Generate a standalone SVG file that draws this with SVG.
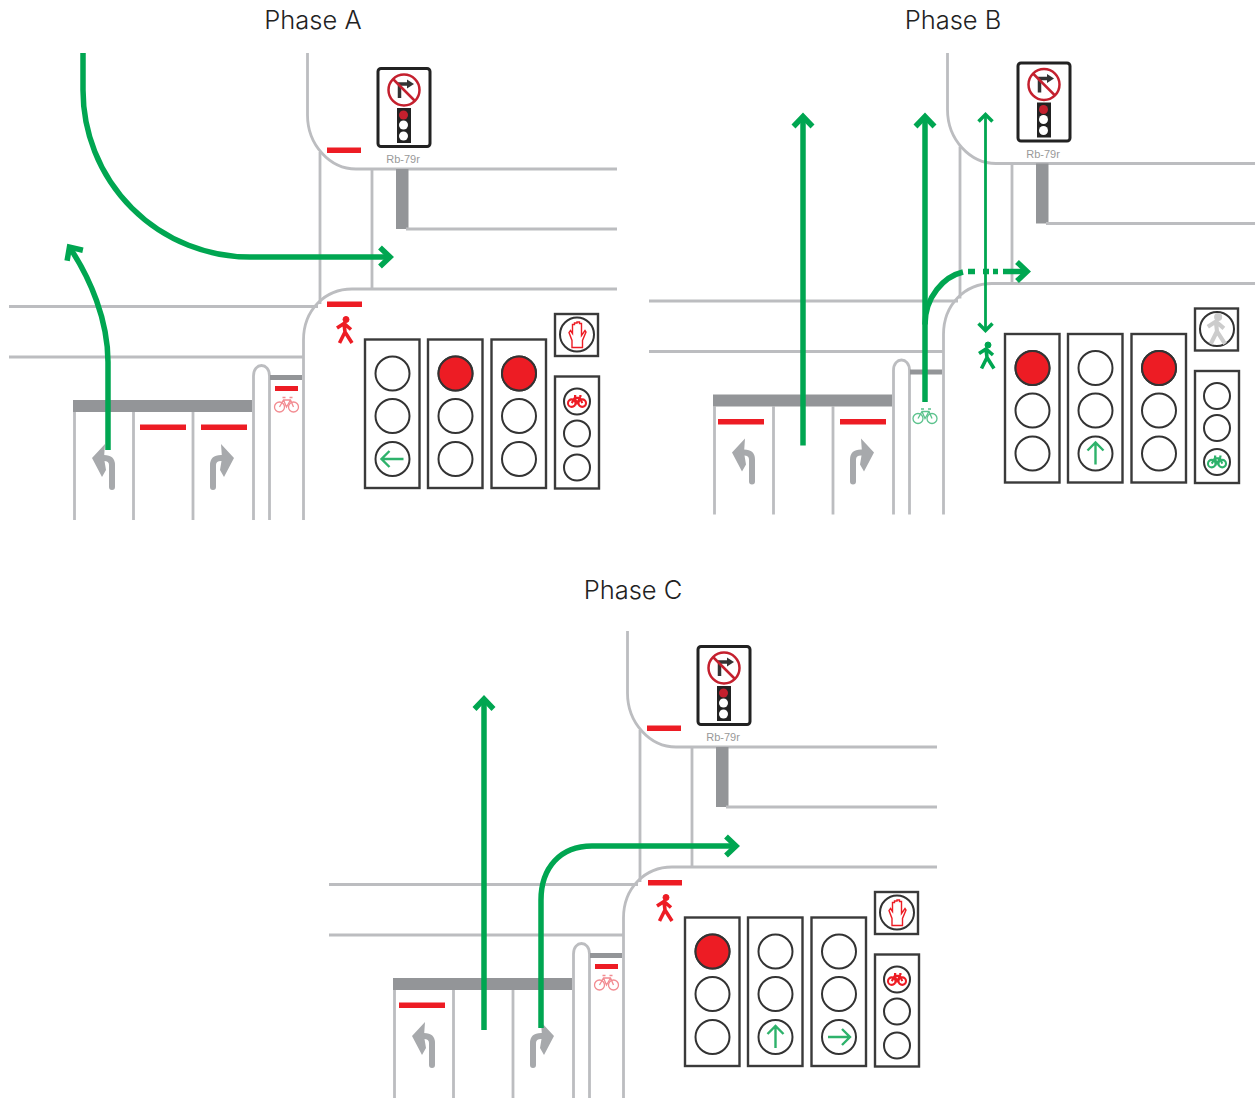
<svg xmlns="http://www.w3.org/2000/svg" width="1255" height="1099" viewBox="0 0 1255 1099">
<style>
.title{font-family:Inter,Roboto,"Liberation Sans",sans-serif;font-weight:300;font-size:25.500px;fill:#222;text-anchor:middle}
.code{font-family:"Liberation Sans",Arial,sans-serif;font-size:11px;fill:#999;text-anchor:middle}
.rd{fill:none;stroke:#bcbdc0;stroke-width:2.8}
.st{fill:#939598;stroke:none}
.bar{fill:#ed1c24}
.go{fill:none;stroke:#00a651;stroke-width:5.5}
.gothin{fill:none;stroke:#00a651;stroke-width:2.8}
.head{fill:#fff;stroke:#3a3a3a;stroke-width:2.4}
.lamp{fill:#fff;stroke:#333;stroke-width:2}
.on{fill:#ed1c24;stroke:#333;stroke-width:2}
.glyph{fill:none;stroke:#2eb26b;stroke-width:2.4}
.lane{fill:#a7a9ac}
.laneS{fill:none;stroke:#a7a9ac;stroke-width:6;stroke-linecap:round}
</style>
<defs>
<marker id="ah" markerUnits="userSpaceOnUse" markerWidth="36" markerHeight="36" viewBox="-22 -18 36 36" refX="-4" refY="0" orient="auto"><path d="M-13-9.500 L-3 0 L-13 9.500" fill="none" stroke="#00a651" stroke-width="5.500"/></marker>
<clipPath id="clipB"><rect x="0" y="58.500" width="620" height="462"/></clipPath>
<g id="roads">
<path class="rd" d="M307.500 53V115C307.500 145 330 169 356 169H617"/>
<path class="rd" d="M617 289H352C325 289 303.500 310 303.500 340V520"/>
<path class="rd" d="M320 152V304M372 169V289"/>
<path class="rd" d="M9 306.500H318M9 357H303"/>
<path class="rd" d="M253.500 520V376C253.500 362 269.500 362 269.500 376V520"/>
<path class="rd" d="M74.500 412V520M133.500 412V520M193 412V520"/>
<rect class="st" x="396" y="169" width="12.500" height="60"/>
<path class="rd" d="M406 229H617"/>
<rect class="st" x="73" y="400" width="179" height="12"/>
<rect class="st" x="270" y="375" width="32" height="5"/>
<path class="laneS" d="M112 487V465Q112 458 104 458H98"/>
<path class="lane" d="M92 458L105 444L104 458L106 470L102 477Z"/>
<path class="laneS" d="M213 487V465Q213 458 221 458H227"/>
<path class="lane" d="M234 458L221 444L222 458L220 470L224 477Z"/>
</g>
<g id="sign">
<rect x="378" y="68.500" width="52" height="78" rx="3" fill="#fff" stroke="#222" stroke-width="3"/>
<circle cx="404" cy="90" r="15.500" fill="#fff" stroke="#c4202e" stroke-width="2.500"/>
<path d="M399.500 98V84H409" fill="none" stroke="#333" stroke-width="3.500"/>
<path d="M407 79.500L414 84L407 88.500Z" fill="#333"/>
<path d="M393 79L415 101" stroke="#c4202e" stroke-width="2.500"/>
<rect x="397" y="108" width="14" height="35" fill="#222"/>
<circle cx="403.500" cy="115" r="4.500" fill="#c4202e"/><circle cx="403.500" cy="125" r="4.500" fill="#fff"/><circle cx="403.500" cy="136" r="4.500" fill="#fff"/>
<text class="code" x="403" y="163">Rb-79r</text>
</g>
<g id="ped"><circle cx="1" cy="-10.500" r="3"/><path fill="none" stroke-width="3.600" d="M-8-2L-1-6.500L6-.5M-1-6.500L0 2L-5.500 13M0 2L7 13"/></g>
<g id="bike" fill="none"><circle cx="-7" cy="3.500" r="5"/><circle cx="7" cy="3.500" r="5"/><path d="M-7 3.500L-3-3.500H4L7 3.500M-3-3.500L0 3.500L4-3.500M-4-6H-1M3-6H6"/></g>
<g id="arrowLamp"><path d="M-11 0H11M3-8L11 0L3 8"/></g>
<g id="hand"><path d="M-5 13V6L-8-2L-6.500-4L-4.500-1V-10H-2.500V-11.500H0V-12.500H2.500V-11H4.500V1L8-4L9-2.500L5.500 6V13Z" fill="#fff" stroke="#ed1c24" stroke-width="1.400"/></g>
<g id="h3"><rect class="head" x="0" y="0" width="54.500" height="148.500"/><circle class="lamp" cx="27.500" cy="34" r="17"/><circle class="lamp" cx="27.500" cy="76.500" r="17"/><circle class="lamp" cx="27.500" cy="119.500" r="17"/></g>
<g id="h3s"><rect class="head" x="0" y="0" width="44" height="112"/><circle class="lamp" cx="22" cy="25" r="13"/><circle class="lamp" cx="22" cy="57" r="13"/><circle class="lamp" cx="22" cy="91" r="13"/></g>
<g id="pedHead"><rect class="head" x="0" y="0" width="43" height="42"/><circle class="lamp" cx="22" cy="20.500" r="17"/></g>
</defs>

<text class="title" x="313" y="29">Phase A</text>
<text class="title" x="953" y="29">Phase B</text>
<text class="title" x="633" y="599">Phase C</text>

<g id="phase-a">
<g id="a-roads"><use href="#roads"/></g>
<g id="a-sign"><use href="#sign"/></g>
<g id="a-marks">
<rect class="bar" x="327" y="147.500" width="34" height="5.500"/><rect class="bar" x="327" y="301.500" width="35" height="5.500"/>
<rect class="bar" x="140" y="424.500" width="46" height="5.500"/><rect class="bar" x="201" y="424.500" width="46" height="5.500"/>
<rect class="bar" x="275" y="386" width="23" height="5"/>
<use href="#bike" transform="translate(286.500 403.500)" stroke="#f28b91" stroke-width="1.300"/>
<use href="#ped" transform="translate(345 330)" fill="#ed1c24" stroke="#ed1c24"/>
</g>
<g id="a-head1" transform="translate(365 339.500)"><use href="#h3"/><use href="#arrowLamp" transform="translate(27.500 119.500) rotate(180)" class="glyph"/></g>
<g id="a-head2" transform="translate(428 339.500)"><use href="#h3"/><circle class="on" cx="27.500" cy="34" r="17"/></g>
<g id="a-head3" transform="translate(491.500 339.500)"><use href="#h3"/><circle class="on" cx="27.500" cy="34" r="17"/></g>
<g id="a-ped" transform="translate(555 314)"><use href="#pedHead"/><use href="#hand" transform="translate(22 20.500)"/></g>
<g id="a-bike" transform="translate(555 376.500)"><use href="#h3s"/><use href="#bike" transform="translate(22 24) scale(.75)" stroke="#ed1c24" stroke-width="2.800"/></g>
<g id="a-connectors">
<path class="go" marker-end="url(#ah)" d="M83 53V90A167 167 0 0 0 250 257H389"/>
<path class="go" marker-end="url(#ah)" d="M108 450V362C108 320 90 278 70 248"/>
</g>
</g>

<g id="phase-b" transform="translate(640 -5.500)">
<g id="b-roads" clip-path="url(#clipB)"><use href="#roads"/></g>
<g id="b-sign"><use href="#sign"/></g>
<g id="b-marks">
<rect class="bar" x="78" y="424.500" width="46" height="5.500"/><rect class="bar" x="200" y="424.500" width="46" height="5.500"/>
<use href="#bike" transform="translate(285 420.500)" stroke="#5cc28d" stroke-width="1.300"/>
<use href="#ped" transform="translate(347 361)" fill="#00a651" stroke="#00a651"/>
</g>
<g id="b-head1" transform="translate(365 339.500)"><use href="#h3"/><circle class="on" cx="27.500" cy="34" r="17"/></g>
<g id="b-head2" transform="translate(428 339.500)"><use href="#h3"/><use href="#arrowLamp" transform="translate(27.500 119.500) rotate(-90)" class="glyph"/></g>
<g id="b-head3" transform="translate(491.500 339.500)"><use href="#h3"/><circle class="on" cx="27.500" cy="34" r="17"/></g>
<g id="b-ped" transform="translate(555 314)"><use href="#pedHead"/><use href="#ped" transform="translate(22 20.500) scale(1.150)" fill="#ccc" stroke="#ccc"/></g>
<g id="b-bike" transform="translate(555 376.500)"><use href="#h3s"/><use href="#bike" transform="translate(22 90) scale(.75)" stroke="#2eb26b" stroke-width="2.800"/></g>
<g id="b-connectors">
<path class="go" marker-end="url(#ah)" d="M163 451V123"/>
<path class="go" marker-end="url(#ah)" d="M285 407.500V123"/>
<path class="go" d="M285 330C285 302 304 282 323 277.500"/>
<path class="go" d="M328 277H335M343 277H349M353 277H358"/>
<path class="go" marker-end="url(#ah)" d="M363 277H386"/>
<path class="gothin" d="M345.500 122V334"/>
<path class="gothin" style="stroke-width:3.500" d="M338.500 127L345.500 120L352.500 127M338.500 329L345.500 336L352.500 329"/>
</g>
</g>

<g id="phase-c" transform="translate(320 578)">
<g id="c-roads"><use href="#roads"/></g>
<g id="c-sign"><use href="#sign"/></g>
<g id="c-marks">
<rect class="bar" x="327" y="147.500" width="34" height="5.500"/><rect class="bar" x="328" y="302" width="34" height="5.500"/>
<rect class="bar" x="79" y="424.500" width="46" height="5.500"/>
<rect class="bar" x="275" y="386" width="23" height="5"/>
<use href="#bike" transform="translate(286.500 403.500)" stroke="#f28b91" stroke-width="1.300"/>
<use href="#ped" transform="translate(345 330)" fill="#ed1c24" stroke="#ed1c24"/>
</g>
<g id="c-head1" transform="translate(365 339.500)"><use href="#h3"/><circle class="on" cx="27.500" cy="34" r="17"/></g>
<g id="c-head2" transform="translate(428 339.500)"><use href="#h3"/><use href="#arrowLamp" transform="translate(27.500 119.500) rotate(-90)" class="glyph"/></g>
<g id="c-head3" transform="translate(491.500 339.500)"><use href="#h3"/><use href="#arrowLamp" transform="translate(27.500 119.500)" class="glyph"/></g>
<g id="c-ped" transform="translate(555 314)"><use href="#pedHead"/><use href="#hand" transform="translate(22 20.500)"/></g>
<g id="c-bike" transform="translate(555 376.500)"><use href="#h3s"/><use href="#bike" transform="translate(22 24) scale(.75)" stroke="#ed1c24" stroke-width="2.800"/></g>
<g id="c-connectors">
<path class="go" marker-end="url(#ah)" d="M164 452V122"/>
<path class="go" marker-end="url(#ah)" d="M221 450V322C221 290 240 268 272 268H415"/>
</g>
</g>
</svg>
